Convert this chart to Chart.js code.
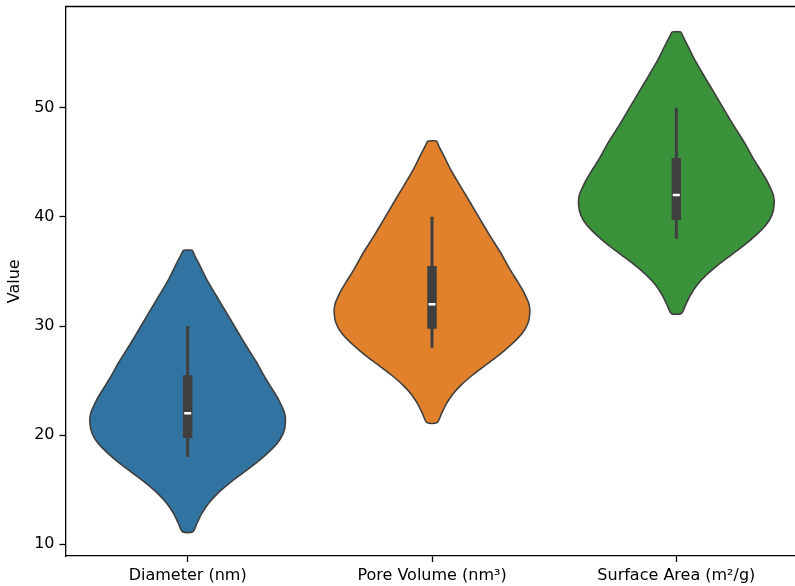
<!DOCTYPE html>
<html>
<head>
<meta charset="utf-8">
<script src="https://cdn.jsdelivr.net/npm/chart.js@4/dist/chart.umd.min.js"></script>
<style>
  html, body { margin: 0; padding: 0; background: #fff; overflow: hidden; }
  #chart { display: block; }
</style>
</head>
<body>
<canvas id="chart" width="805" height="586"></canvas>
<script>
// Categories and colours
const categories = ['Diameter (nm)', 'Pore Volume (nm³)', 'Surface Area (m²/g)'];
const fillColors = ['#3274a1', '#e1812c', '#3a923a'];
const yTicks = [10, 20, 30, 40, 50];

// Violin outlines: values (top -> bottom) and half widths
const diameterLevels = [36.94, 36.48, 35.57, 34.35, 32.82, 31.29, 29.77, 28.24, 26.71, 25.19, 24.12, 23.21, 21.99, 21.08, 20.16, 19.24, 18.33, 17.41, 16.50, 15.58, 14.67, 13.75, 12.84, 11.93, 11.15];
const poreLevels     = [46.94, 46.48, 45.57, 44.35, 42.82, 41.29, 39.77, 38.24, 36.71, 35.19, 34.12, 33.21, 31.99, 31.08, 30.16, 29.24, 28.33, 27.41, 26.50, 25.58, 24.67, 23.75, 22.84, 21.93, 21.15];
const surfaceLevels  = [56.94, 56.48, 55.57, 54.35, 52.82, 51.29, 49.77, 48.24, 46.71, 45.19, 44.12, 43.21, 41.99, 41.08, 40.16, 39.24, 38.33, 37.41, 36.50, 35.58, 34.67, 33.75, 32.84, 31.93, 31.15];
const halfWidths     = [0.018, 0.028, 0.049, 0.076, 0.116, 0.157, 0.197, 0.238, 0.281, 0.319, 0.349, 0.373, 0.397, 0.400, 0.391, 0.366, 0.326, 0.278, 0.224, 0.170, 0.123, 0.085, 0.058, 0.038, 0.021];

// Inner box stats
const whiskerLow  = [18, 28, 38];
const q1          = [19.75, 29.75, 39.7];
const medians     = [22, 32, 42];
const q3          = [25.5, 35.5, 45.4];
const whiskerHigh = [30, 40, 50];

const edgeColor = '#3f3f3f';
const fontFamily = "'DejaVu Sans', sans-serif";

// closed outline: down the left side, back up the right side
function outline(idx, levels) {
  const pts = [];
  levels.forEach((v, k) => pts.push({ x: idx - halfWidths[k], y: v }));
  for (let k = levels.length - 1; k >= 0; k--) pts.push({ x: idx + halfWidths[k], y: levels[k] });
  pts.push(pts[0]);
  return pts;
}

const datasets = [];
[diameterLevels, poreLevels, surfaceLevels].forEach((levels, i) => {
  datasets.push({
    data: outline(i, levels),
    showLine: true,
    fill: 'shape',
    backgroundColor: fillColors[i],
    borderColor: edgeColor,
    borderWidth: 1.6,
    tension: 0.25,
    pointRadius: 0,
    order: 3
  });
  // whisker
  datasets.push({
    data: [{ x: i, y: whiskerLow[i] }, { x: i, y: whiskerHigh[i] }],
    showLine: true,
    borderColor: edgeColor,
    borderWidth: 3,
    borderCapStyle: 'butt',
    pointRadius: 0,
    order: 2
  });
  // box
  datasets.push({
    data: [{ x: i, y: q1[i] }, { x: i, y: q3[i] }],
    showLine: true,
    borderColor: edgeColor,
    borderWidth: 9.5,
    borderCapStyle: 'butt',
    pointRadius: 0,
    order: 1
  });
  // median
  datasets.push({
    data: [{ x: i, y: medians[i] }],
    showLine: false,
    pointStyle: 'line',
    pointRadius: 3.5,
    pointBorderWidth: 2.5,
    pointBorderColor: '#ffffff',
    order: 0
  });
});

// top spine (right spine falls outside the picture)
const frame = {
  id: 'frame',
  afterDraw(chart) {
    const { ctx, chartArea } = chart;
    ctx.save();
    ctx.strokeStyle = '#000';
    ctx.lineWidth = 1.3;
    ctx.beginPath();
    ctx.moveTo(chartArea.left, chartArea.top);
    ctx.lineTo(chartArea.right, chartArea.top);
    ctx.stroke();
    ctx.restore();
  }
};

new Chart(document.getElementById('chart'), {
  type: 'scatter',
  data: { datasets },
  plugins: [frame],
  options: {
    responsive: false,
    animation: false,
    events: [],
    layout: { padding: { top: 6, right: 0, left: 0, bottom: 0 } },
    plugins: {
      legend: { display: false },
      tooltip: { enabled: false }
    },
    scales: {
      x: {
        type: 'linear',
        min: -0.5,
        max: 2.5,
        afterBuildTicks: (scale) => { scale.ticks = categories.map((c, i) => ({ value: i })); },
        afterFit: (scale) => { scale.height = 30; scale.paddingLeft = 0; scale.paddingRight = 0; },
        ticks: {
          callback: (v) => categories[v],
          color: '#000',
          font: { family: fontFamily, size: 16 },
          padding: 4,
          maxRotation: 0
        },
        grid: { drawOnChartArea: false, drawTicks: true, tickLength: 6, tickColor: '#000', tickWidth: 1.3 },
        border: { display: true, color: '#000', width: 1.3 }
      },
      y: {
        min: 8.93,
        max: 59.27,
        afterBuildTicks: (scale) => { scale.ticks = yTicks.map(v => ({ value: v })); },
        afterFit: (scale) => { scale.width = 65.5; scale.paddingTop = 0; scale.paddingBottom = 0; },
        ticks: {
          color: '#000',
          font: { family: fontFamily, size: 16 },
          padding: 5
        },
        title: {
          display: true,
          text: 'Value',
          color: '#000',
          font: { family: fontFamily, size: 16 },
          padding: { top: 5, bottom: 0 }
        },
        grid: { drawOnChartArea: false, drawTicks: true, tickLength: 6, tickColor: '#000', tickWidth: 1.3 },
        border: { display: true, color: '#000', width: 1.3 }
      }
    }
  }
});
</script>
</body>
</html>
